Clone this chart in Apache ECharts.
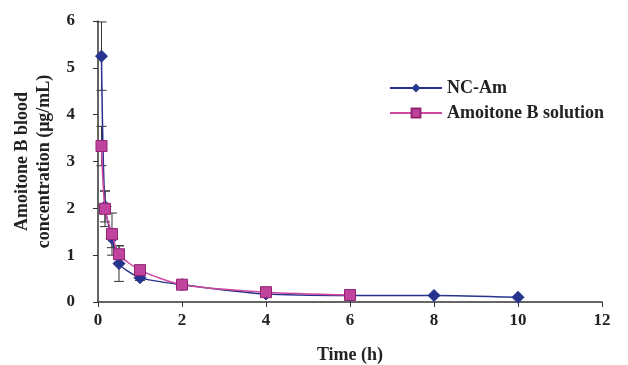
<!DOCTYPE html>
<html>
<head>
<meta charset="utf-8">
<script src="https://cdn.jsdelivr.net/npm/echarts@6/dist/echarts.min.js"></script>
<style>
  html, body { margin: 0; padding: 0; background: #fff; }
  #chart { width: 628px; height: 365px; }
</style>
</head>
<body>
<div id="chart"></div>
<script>
// sampling times (h)
var timesNC = [0.083, 0.167, 0.333, 0.5, 1, 2, 4, 6, 8, 10];
var timesSol = [0.083, 0.167, 0.333, 0.5, 1, 2, 4, 6];
// mean concentrations (ug/mL)
var ncAm = [5.25, 2.04, 1.36, 0.82, 0.52, 0.37, 0.17, 0.14, 0.14, 0.10];
var solution = [3.33, 1.99, 1.45, 1.02, 0.68, 0.37, 0.21, 0.15];
// standard deviations
var ncAmSd = [0.73, 0.33, 0.2, 0.38, 0.06, 0.04, 0.02, 0.02, 0.02, 0.01];
var solutionSd = [0.42, 0.38, 0.45, 0.18, 0.08, 0.04, 0.03, 0.02];

var xTicks = [0, 2, 4, 6, 8, 10, 12];
var yTicks = [0, 1, 2, 3, 4, 5, 6];

var font = '"Liberation Serif", "Times New Roman", serif';

function pairs(xs, ys) {
  return xs.map(function (x, i) { return [x, ys[i]]; });
}
function errRows(xs, ys, sd) {
  return xs.map(function (x, i) { return [x, ys[i] - sd[i], ys[i] + sd[i]]; });
}

function renderErr(params, api) {
  var lo = api.coord([api.value(0), api.value(1)]);
  var hi = api.coord([api.value(0), api.value(2)]);
  var w = 5;
  var st = { stroke: '#333', lineWidth: 1 };
  return {
    type: 'group',
    children: [
      { type: 'line', shape: { x1: hi[0], y1: hi[1], x2: lo[0], y2: lo[1] }, style: st },
      { type: 'line', shape: { x1: hi[0] - w, y1: hi[1], x2: hi[0] + w, y2: hi[1] }, style: st },
      { type: 'line', shape: { x1: lo[0] - w, y1: lo[1], x2: lo[0] + w, y2: lo[1] }, style: st }
    ]
  };
}

var chart = echarts.init(document.getElementById('chart'));
chart.setOption({
  animation: false,
  textStyle: { fontFamily: font },
  grid: { left: 98, right: 26, top: 21, bottom: 63, outerBoundsMode: 'none', containLabel: false },
  legend: {
    data: ['NC-Am', 'Amoitone B solution'],
    orient: 'vertical',
    left: 384,
    top: 74,
    itemWidth: 52,
    itemHeight: 11,
    itemGap: 7,
    textStyle: { fontFamily: font, fontWeight: 'bold', fontSize: 18, color: '#222' }
  },
  xAxis: {
    type: 'value',
    min: xTicks[0],
    max: xTicks[xTicks.length - 1],
    interval: 2,
    name: 'Time (h)',
    nameLocation: 'middle',
    nameGap: 44,
    nameTextStyle: { fontFamily: font, fontWeight: 'bold', fontSize: 18, color: '#222' },
    axisLine: { lineStyle: { color: '#333', width: 1.5 } },
    axisTick: { length: 5, lineStyle: { color: '#333' } },
    axisLabel: { fontFamily: font, fontWeight: 'bold', fontSize: 17, color: '#222', margin: 10 },
    splitLine: { show: false }
  },
  yAxis: {
    type: 'value',
    min: yTicks[0],
    max: yTicks[yTicks.length - 1],
    interval: 1,
    name: 'Amoitone B blood\nconcentration (μg/mL)',
    nameLocation: 'middle',
    nameGap: 43,
    nameTextStyle: { fontFamily: font, fontWeight: 'bold', fontSize: 18, color: '#222', lineHeight: 22 },
    axisLine: { show: true, lineStyle: { color: '#333', width: 1.5 } },
    axisTick: { show: true, length: 5, lineStyle: { color: '#333' } },
    axisLabel: { fontFamily: font, fontWeight: 'bold', fontSize: 17, color: '#222', margin: 23 },
    splitLine: { show: false }
  },
  series: [
    {
      name: 'NC-Am err',
      type: 'custom',
      renderItem: renderErr,
      data: errRows(timesNC, ncAm, ncAmSd),
      z: 1
    },
    {
      name: 'Sol err',
      type: 'custom',
      renderItem: renderErr,
      data: errRows(timesSol, solution, solutionSd),
      z: 1
    },
    {
      name: 'NC-Am',
      type: 'line',
      smooth: 0.25,
      data: pairs(timesNC, ncAm),
      symbol: 'diamond',
      symbolSize: 12,
      lineStyle: { color: '#26348f', width: 1.5 },
      itemStyle: { color: '#26348f', borderColor: '#26348f' },
      z: 3
    },
    {
      name: 'Amoitone B solution',
      type: 'line',
      smooth: 0.25,
      data: pairs(timesSol, solution),
      symbol: 'rect',
      symbolSize: 11,
      lineStyle: { color: '#d0479e', width: 1.5 },
      itemStyle: { color: '#c0449f', borderColor: '#93246f', borderWidth: 1 },
      z: 4
    }
  ]
});
</script>
</body>
</html>
